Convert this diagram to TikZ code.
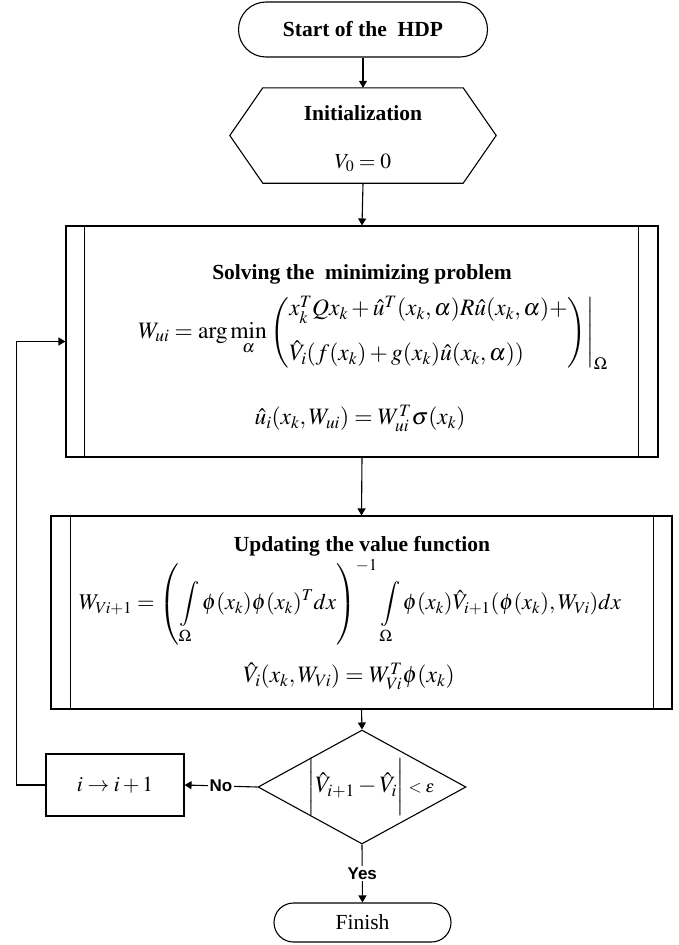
\documentclass[tikz,border=0pt]{standalone}
\usepackage{amsmath}
\usepackage{mathptmx}
\usepackage[no-math]{fontspec}
\setmainfont{Liberation Serif}
\setsansfont{Liberation Sans}
\usetikzlibrary{arrows.meta,shapes.geometric,shapes.misc}

\begin{document}
\begin{tikzpicture}[x=1pt,y=1pt,
    every node/.style={font=\fontsize{21.5}{26}\selectfont},
    line/.style={line width=1.1pt},
    arr/.style={line, -{Triangle[length=7pt,width=8pt]}},
    term/.style={draw, line, rounded rectangle, inner sep=0pt},
    procbox/.style={draw, line, rectangle, inner sep=0pt},
    head/.style={font=\fontsize{21.5}{26}\selectfont\bfseries, inner sep=0pt},
    eq/.style={font=\fontsize{23.5}{28}\selectfont, inner sep=0pt},
    lbl/.style={font=\fontsize{17}{20}\selectfont\sffamily\bfseries, fill=white, inner sep=2pt}]
            % page frame
            \useasboundingbox (0,0) rectangle (679,-945);

            % start and initialization
            \node[term, minimum width=249pt, minimum height=55pt] (start) at (363,-29.5) {\textbf{Start of the\ \ HDP}};
            \node[minimum width=266pt, minimum height=95pt, inner sep=0pt] (init) at (363,-135.5) {};
            \draw[line] (init.west) -- ([xshift=33pt]init.north west) -- ([xshift=-33pt]init.north east) -- (init.east) -- ([xshift=-33pt]init.south east) -- ([xshift=33pt]init.south west) -- cycle;
            \node[align=center, inner sep=0pt] (initxt) at ([yshift=-3pt]init.center) {\textbf{Initialization}\\[22pt] $V_0=0$};

            % solving box
            \node[procbox, minimum width=592pt, minimum height=231pt] (solve) at (362,-341.5) {};
            \node[head] (solvehead) at (362,-274) {Solving the\ \ minimizing problem};
            \node[eq] (solveeq) at (373,-333) {$\displaystyle W_{ui}=\arg\min_{\alpha}\left.\left(\begin{array}{@{}l@{}}x_k^TQx_k+\hat u^T(x_k,\alpha)R\hat u(x_k,\alpha)+\\[16pt] \hat V_i(f(x_k)+g(x_k)\hat u(x_k,\alpha))\end{array}\right)\right|_{\Omega}$};
            \node[eq] (solvepol) at (360,-418) {$\hat u_i(x_k,W_{ui})=W_{ui}^T\sigma(x_k)$};

            % updating box
            \node[procbox, minimum width=621pt, minimum height=193pt] (update) at (361.5,-612.5) {};
            \node[head] (updhead) at (362,-546) {Updating the value function};
            \node[eq, font=\fontsize{22.5}{27}\selectfont] (updeq) at (350,-602) {$\displaystyle W_{Vi+1}=\left(\int\limits_{\Omega}\phi(x_k)\phi(x_k)^T dx\right)^{-1}\int\limits_{\Omega}\phi(x_k)\hat V_{i+1}(\phi(x_k),W_{Vi})dx$};
            \node[eq] (updval) at (349,-676) {$\hat V_i(x_k,W_{Vi})=W_{Vi}^T\phi(x_k)$};

            % side bars of the process boxes
            \foreach \b/\l/\r in {solve/19/20, update/20/19} {
              \draw[line] ([xshift=\l pt]\b.north west) -- ([xshift=\l pt]\b.south west);
              \draw[line] ([xshift=-\r pt]\b.north east) -- ([xshift=-\r pt]\b.south east);
            }

            % decision, increment and end
            \node[diamond, draw, line, minimum width=208pt, minimum height=114pt, inner sep=0pt] (check) at (362,-787) {};
            \node[eq] (cond) at ([xshift=9pt]check.center) {$\biggl|\hat V_{i+1}-\hat V_i\biggr|$\,{\fontsize{17}{20}\selectfont$<\varepsilon$}};
            \node[draw, line, minimum width=138pt, minimum height=62pt] (inc) at (115,-785) {$i\to i+1$};
            \node[term, minimum width=177pt, minimum height=39pt] (finish) at (362.5,-922.5) {Finish};

            % connectors
            \draw[arr] (start.south) -- (init.north);
            \draw[arr] (init.south) -- (solve.north);
            \draw[arr] (solve.south) -- (update.north);
            \draw[arr] (update.south) -- (check.north);
            \draw[arr] (check.west) -- node[lbl] {No} (inc.east);
            \draw[arr] (check.south) -- node[lbl] {Yes} (finish.north);
            \draw[arr] (inc.west) -- ++(-29pt,0) |- (solve.west);
        \end{tikzpicture}
\end{document}
